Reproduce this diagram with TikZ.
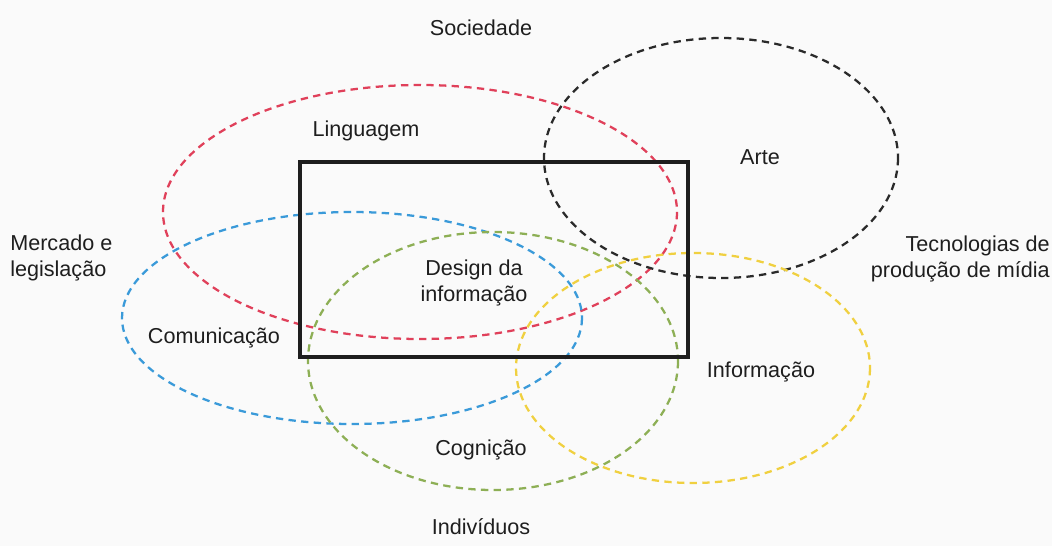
\documentclass[tikz,border=0pt]{standalone}
\usepackage{fontspec}
\setmainfont{Liberation Sans}
\definecolor{bg}{HTML}{FAFAFA}
\definecolor{cred}{HTML}{E0405A}
\definecolor{cblue}{HTML}{3A9AD9}
\definecolor{cgreen}{HTML}{8DAF55}
\definecolor{cyellow}{HTML}{F0D040}
\definecolor{cblack}{HTML}{2A2A2A}
\definecolor{ink}{HTML}{1E1E1E}
\tikzset{
  area/.style={line width=1.7pt, dash pattern=on 5.5pt off 4pt},
  lbl/.style={font=\fontsize{16.2}{19.5}\selectfont, text=ink, inner sep=0pt, align=center},
  frame/.style={draw=ink, line width=2.4pt}
}
\begin{document}
\begin{tikzpicture}[x=0.75pt,y=-0.75pt]
  % canvas
  \fill[bg] (0,0) rectangle (1052,546);
  \useasboundingbox (0,0) rectangle (1052,546);

  % overlapping fields
  \draw[area, draw=cred]    (420,212) ellipse [x radius=257, y radius=127];
  \draw[area, draw=cblack]  (721,158) ellipse [x radius=177, y radius=120];
  \draw[area, draw=cblue]   (352,318) ellipse [x radius=230, y radius=106];
  \draw[area, draw=cgreen]  (493,361) ellipse [x radius=185, y radius=129];
  \draw[area, draw=cyellow] (693,368) ellipse [x radius=177, y radius=115];

  % central field
  \draw[frame] (300,162) rectangle (688,357);

  % labels
  \node[lbl] (soc)  at (481,28)  {Sociedade};
  \node[lbl] (ling) at (366,131) {Linguagem};
  \node[lbl] (arte) at (760,157) {Arte};
  \node[lbl, anchor=west, align=left] (merc) at (10,258) {Mercado e\\legislação};
  \node[lbl, anchor=east, align=right] (tec) at (1050,259) {Tecnologias de\\produção de mídia};
  \node[lbl] (di)   at (474,283) {Design da\\informação};
  \node[lbl] (com)  at (214,338) {Comunicação};
  \node[lbl] (inf)  at (761,372) {Informação};
  \node[lbl] (cog)  at (481,450) {Cognição};
  \node[lbl] (ind)  at (481,527) {Indivíduos};
\end{tikzpicture}
\end{document}
